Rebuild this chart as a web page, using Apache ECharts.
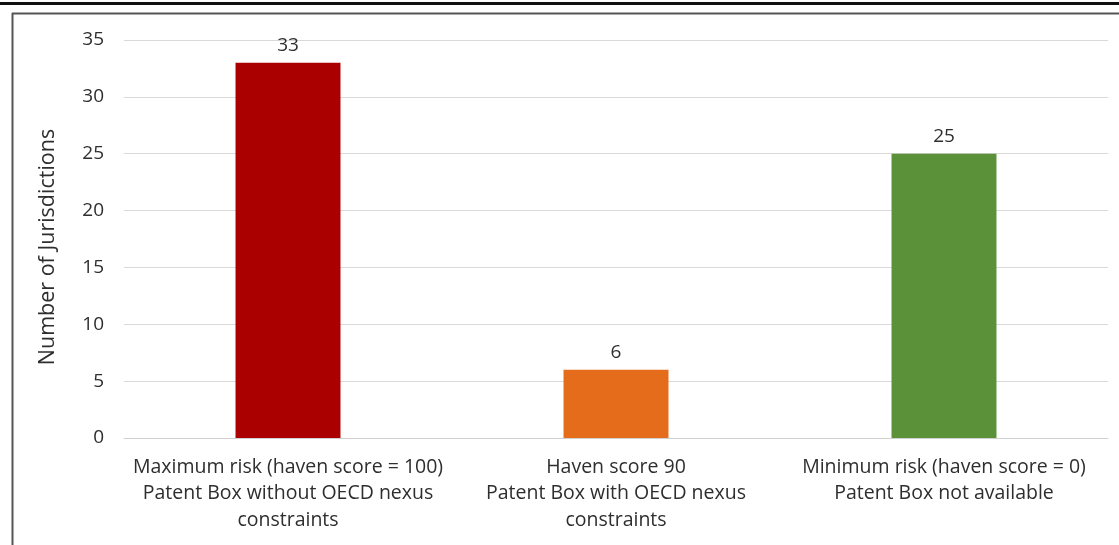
<!DOCTYPE html>
<html>
<head>
<meta charset="utf-8">
<script src="https://cdn.jsdelivr.net/npm/echarts@6/dist/echarts.min.js"></script>
<style>
  html, body { margin: 0; padding: 0; background: #fff; }
  #chart { width: 1119px; height: 545px; }
</style>
</head>
<body>
<div id="chart"></div>
<script>
// Jurisdictions by patent box haven score
const categories = [
  'Maximum risk (haven score = 100)\nPatent Box without OECD nexus\nconstraints',
  'Haven score 90\nPatent Box with OECD nexus\nconstraints',
  'Minimum risk (haven score = 0)\nPatent Box not available'
];
const counts = [33, 6, 25];
const barColors = ['#AA0000', '#E46C1A', '#5B9239'];
const yTicks = [0, 5, 10, 15, 20, 25, 30, 35];

const FONT = '"Open Sans", "Liberation Sans", sans-serif';
const TEXT = '#2e2e2e';

const chart = echarts.init(document.getElementById('chart'), null, { renderer: 'canvas' });

chart.setOption({
  animation: false,
  backgroundColor: '#ffffff',
  textStyle: { fontFamily: FONT },
  graphic: [
    // heavy rule across the top
    { type: 'rect', shape: { x: 0, y: 2, width: 1119, height: 3 }, style: { fill: '#111' }, silent: true },
    // frame around the chart (top and left edges)
    { type: 'line', shape: { x1: 12, y1: 13.5, x2: 1119, y2: 13.5 }, style: { stroke: '#555', lineWidth: 2 }, silent: true },
    { type: 'line', shape: { x1: 12.5, y1: 13, x2: 12.5, y2: 545 }, style: { stroke: '#555', lineWidth: 2 }, silent: true }
  ],
  grid: { left: 124, right: 11, top: 40, bottom: 107, containLabel: false },
  xAxis: {
    type: 'category',
    data: categories,
    axisLine: { show: true, lineStyle: { color: '#d0d0d0', width: 1 } },
    axisTick: { show: false },
    axisLabel: {
      color: TEXT, fontSize: 19.5, fontFamily: FONT,
      lineHeight: 26.5, margin: 16, interval: 0
    },
    splitLine: { show: false }
  },
  yAxis: {
    type: 'value',
    min: 0, max: 35, interval: 5,
    name: 'Number of Jurisdictions',
    nameLocation: 'middle',
    nameGap: 65,
    nameRotate: 90,
    nameTextStyle: { color: TEXT, fontSize: 21.5, fontFamily: FONT, padding: [0, 16, 0, 0] },
    axisLine: { show: false },
    axisTick: { show: false },
    axisLabel: {
      color: TEXT, fontSize: 19, fontFamily: FONT, margin: 20,
      formatter: v => yTicks.includes(v) ? String(v) : ''
    },
    splitLine: { lineStyle: { color: '#d9d9d9', width: 1 } }
  },
  series: [{
    type: 'bar',
    data: counts.map((v, i) => ({ value: v, itemStyle: { color: barColors[i] } })),
    barWidth: '32%',
    label: {
      show: true, position: 'top', distance: 8,
      color: TEXT, fontSize: 19, fontFamily: FONT
    }
  }]
});
</script>
</body>
</html>
